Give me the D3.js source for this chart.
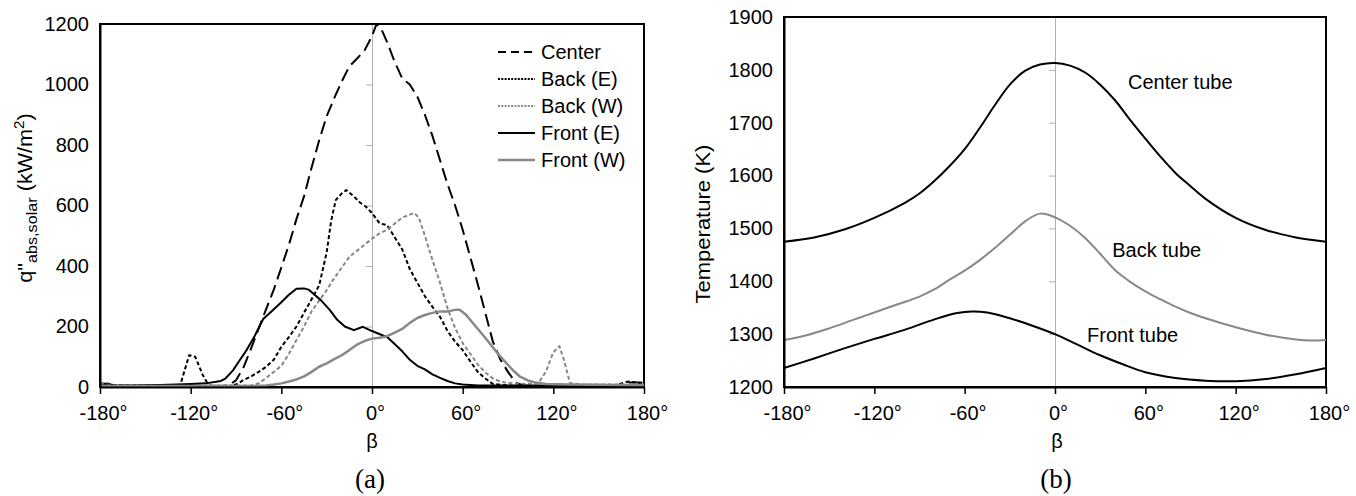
<!DOCTYPE html>
<html>
<head>
<meta charset="utf-8">
<script src="https://cdn.jsdelivr.net/npm/d3@7"></script>
<style>
body { margin: 0; background: #fff; }
text { font-family: Arial, "Liberation Sans", sans-serif; fill: #000; }
</style>
</head>
<body>
<div id="canvas"></div>
<script>
"use strict"

/* ---------- data: panel (a), absorbed solar flux vs beta ---------- */
let centerBeta = [-180, -175, -170, -160, -100, -95, -90, -85, -80, -75, -70, -65, -60, -55, -50, -45, -40, -35, -30, -25, -20, -15, -10, -5, 0, 3, 6, 10, 15, 20, 25, 30, 35, 40, 45, 50, 55, 60, 65, 70, 75, 80, 85, 90, 95, 100, 110, 150, 165, 170, 180];
let centerQ    = [12, 10, 5, 3, 3, 5, 22, 65, 128, 193, 258, 322, 395, 470, 555, 630, 725, 815, 895, 955, 1010, 1060, 1085, 1112, 1160, 1200, 1185, 1140, 1075, 1020, 1000, 960, 900, 830, 750, 670, 600, 520, 430, 340, 245, 150, 90, 50, 15, 5, 3, 3, 5, 15, 15];

let backEBeta = [-180, -175, -170, -130, -127, -121, -117, -112, -108, -100, -95, -90, -85, -80, -75, -70, -65, -60, -55, -50, -45, -40, -35, -30, -27, -24, -20, -17, -12, -8, -4, 0, 5, 10, 15, 20, 25, 30, 35, 40, 45, 50, 55, 60, 65, 70, 75, 80, 90, 100, 160, 165, 170, 175, 180];
let backEQ    = [8, 12, 5, 3, 5, 105, 100, 40, 5, 3, 3, 8, 23, 35, 50, 67, 90, 133, 165, 200, 245, 290, 335, 445, 550, 618, 640, 651, 630, 610, 596, 575, 541, 535, 495, 455, 390, 345, 300, 265, 232, 185, 150, 122, 85, 50, 28, 10, 5, 3, 3, 12, 18, 15, 12];

let backWBeta = [-180, -175, -170, -80, -75, -70, -65, -60, -55, -50, -45, -40, -35, -30, -25, -20, -15, -10, -5, 0, 5, 10, 15, 20, 25, 28, 31, 35, 40, 45, 50, 55, 60, 65, 70, 75, 80, 85, 90, 100, 110, 115, 120, 124, 127, 131, 140, 180];
let backWQ    = [10, 8, 5, 5, 12, 30, 50, 70, 110, 155, 200, 250, 285, 320, 360, 395, 430, 450, 470, 490, 508, 520, 540, 560, 570, 575, 560, 500, 420, 345, 260, 195, 145, 110, 75, 48, 28, 18, 13, 10, 12, 50, 115, 135, 90, 13, 8, 8];

let frontEBeta = [-180, -160, -140, -120, -110, -100, -97, -92, -88, -83, -78, -72, -66, -60, -55, -50, -45, -42, -38, -34, -28, -23, -18, -12, -6, 0, 4, 10, 15, 20, 25, 30, 35, 40, 45, 50, 55, 60, 70, 180];
let frontEQ    = [5, 5, 7, 10, 12, 20, 28, 55, 85, 122, 165, 225, 252, 280, 305, 325, 326, 322, 305, 288, 255, 222, 200, 188, 199, 185, 177, 165, 142, 118, 90, 70, 58, 42, 30, 20, 12, 8, 5, 5];

let frontWBeta = [-180, -80, -70, -65, -60, -55, -50, -45, -40, -35, -30, -25, -20, -15, -10, -5, 0, 5, 10, 15, 20, 25, 30, 35, 40, 45, 50, 55, 58, 62, 67, 72, 78, 83, 89, 94, 98, 103, 107, 115, 130, 180];
let frontWQ    = [3, 3, 5, 8, 12, 18, 25, 35, 50, 67, 78, 92, 105, 122, 140, 152, 160, 163, 168, 180, 192, 212, 228, 238, 245, 250, 250, 255, 255, 240, 210, 180, 144, 112, 78, 52, 34, 22, 16, 10, 8, 6];

let legendNames = ["Center", "Back (E)", "Back (W)", "Front (E)", "Front (W)"];

/* ---------- data: panel (b), tube temperature vs beta ---------- */
let centerTubeBeta = [-180, -160, -140, -120, -100, -90, -80, -70, -60, -50, -40, -30, -20, -10, 0, 10, 20, 30, 40, 50, 60, 70, 80, 90, 100, 120, 140, 160, 180];
let centerTubeT    = [1475, 1483, 1498, 1520, 1548, 1566, 1590, 1618, 1650, 1690, 1733, 1772, 1798, 1810, 1813, 1808, 1795, 1772, 1742, 1705, 1670, 1636, 1605, 1580, 1556, 1520, 1497, 1483, 1475];

let backTubeBeta = [-180, -165, -150, -135, -120, -105, -90, -80, -70, -60, -50, -40, -30, -20, -10, 0, 10, 20, 30, 40, 50, 60, 70, 80, 90, 100, 120, 140, 160, 170, 180];
let backTubeT    = [1289, 1298, 1311, 1326, 1341, 1356, 1371, 1385, 1403, 1420, 1440, 1463, 1488, 1513, 1528, 1521, 1505, 1482, 1452, 1421, 1399, 1381, 1366, 1352, 1340, 1330, 1313, 1299, 1290, 1288, 1289];

let frontTubeBeta = [-180, -160, -140, -120, -100, -80, -65, -55, -45, -30, -15, 0, 15, 30, 45, 60, 80, 100, 120, 140, 160, 180];
let frontTubeT    = [1236, 1254, 1273, 1291, 1308, 1328, 1340, 1343, 1341, 1330, 1316, 1300, 1280, 1260, 1243, 1228, 1217, 1212, 1211, 1215, 1224, 1236];

let tubeNames = ["Center tube", "Back tube", "Front tube"];

/* tick labels */
let betaTicks = [-180, -120, -60, 0, 60, 120, 180];
let qTicks = [0, 200, 400, 600, 800, 1000, 1200];
let tTicks = [1200, 1300, 1400, 1500, 1600, 1700, 1800, 1900];

/* ---------- drawing canvas ---------- */
let svgWidth = 1356;
let svgHeight = 496;
let gray = "#888";

let svg = d3.select("#canvas")
    .append("svg")
    .attr("width", svgWidth)
    .attr("height", svgHeight);

/* scales */
let xA = d3.scaleLinear().domain([-180, 180]).range([100, 644]);
let yA = d3.scaleLinear().domain([0, 1200]).range([387, 24]);
let xB = d3.scaleLinear().domain([-180, 180]).range([784, 1326]);
let yB = d3.scaleLinear().domain([1200, 1900]).range([387, 17]);

/* frame of one panel: grey zero line with small ticks, and the outer box */
function drawFrame(x, y, yTicks) {
    let zero = svg.append("g")
        .attr("transform", "translate(" + x(0) + ",0)")
        .call(d3.axisLeft(y).tickValues(yTicks.slice(1, -1)).tickSize(6).tickSizeOuter(0).tickFormat(""));
    zero.selectAll("path, line").attr("stroke", "#b0b0b0").attr("stroke-width", 1);

    svg.append("rect")
        .attr("x", x.range()[0])
        .attr("y", y.range()[1])
        .attr("width", x.range()[1] - x.range()[0])
        .attr("height", y.range()[0] - y.range()[1])
        .attr("fill", "none")
        .attr("stroke", "#000")
        .attr("stroke-width", 2);
}

function drawAxes(x, y, yTicks) {
    let bottom = svg.append("g")
        .attr("transform", "translate(0," + y.range()[0] + ")")
        .call(d3.axisBottom(x).tickValues(betaTicks).tickSize(7).tickSizeOuter(0).tickPadding(12)
            .tickFormat(function (d) { return d + "°"; }));
    bottom.select(".domain").attr("stroke", "#000").attr("stroke-width", 2);
    bottom.selectAll(".tick line").attr("stroke", "#000").attr("stroke-width", 1.5);
    bottom.selectAll("text").attr("font-size", 20).attr("dx", 3);

    let left = svg.append("g")
        .attr("transform", "translate(" + x.range()[0] + ",0)")
        .call(d3.axisLeft(y).tickValues(yTicks).tickSize(0).tickPadding(11).tickFormat(d3.format("d")));
    left.select(".domain").attr("stroke", "#000").attr("stroke-width", 2);
    left.selectAll("text").attr("font-size", 20);
}

/* ---------- panel (a) ---------- */
drawFrame(xA, yA, qTicks);

let seriesA = [
    {beta: centerBeta, val: centerQ, color: "#000", dash: "13,6", width: 2},
    {beta: backEBeta, val: backEQ, color: "#000", dash: "4,2.5", width: 2},
    {beta: backWBeta, val: backWQ, color: gray, dash: "4,2.5", width: 2},
    {beta: frontEBeta, val: frontEQ, color: "#000", dash: null, width: 2},
    {beta: frontWBeta, val: frontWQ, color: gray, dash: null, width: 2.5}
];

let lineA = d3.line()
    .x(function (d) { return xA(d[0]); })
    .y(function (d) { return yA(d[1]); });

svg.selectAll(".seriesA")
    .data(seriesA)
    .join("path")
    .attr("class", "seriesA")
    .attr("d", function (s) { return lineA(d3.zip(s.beta, s.val)); })
    .attr("fill", "none")
    .attr("stroke", function (s) { return s.color; })
    .attr("stroke-width", function (s) { return s.width; })
    .attr("stroke-dasharray", function (s) { return s.dash; })
    .attr("stroke-linejoin", "round");

drawAxes(xA, yA, qTicks);

/* legend */
let legendDash = ["8,5", "2,1.3", "2,1.3", null, null];
let legend = svg.selectAll(".legend")
    .data(seriesA)
    .join("g")
    .attr("class", "legend")
    .attr("transform", function (s, i) { return "translate(498," + (52 + i * 27) + ")"; });

legend.append("line")
    .attr("x1", 0)
    .attr("x2", 37)
    .attr("stroke", function (s) { return s.color; })
    .attr("stroke-width", function (s) { return s.width; })
    .attr("stroke-dasharray", function (s, i) { return legendDash[i]; });

legend.append("text")
    .attr("x", 43)
    .attr("dy", "0.35em")
    .attr("font-size", 20)
    .text(function (s, i) { return legendNames[i]; });

/* axis titles (a) */
let qTitle = svg.append("text")
    .attr("transform", "translate(32,198) rotate(-90) scale(1.08,1)")
    .attr("text-anchor", "middle")
    .attr("font-size", 20);
qTitle.append("tspan").text("q\"");
qTitle.append("tspan").attr("font-size", 15).attr("dy", 5).text("abs,solar");
qTitle.append("tspan").attr("dy", -5).text(" (kW/m");
qTitle.append("tspan").attr("font-size", 14).attr("dy", -8).text("2");
qTitle.append("tspan").attr("dy", 8).text(")");

svg.append("text")
    .attr("x", xA(0))
    .attr("y", 448)
    .attr("text-anchor", "middle")
    .attr("font-size", 20)
    .text("β");

svg.append("text")
    .attr("x", 370)
    .attr("y", 488)
    .attr("text-anchor", "middle")
    .attr("font-size", 27)
    .style("font-family", "'Liberation Serif', 'Times New Roman', serif")
    .text("(a)");

/* ---------- panel (b) ---------- */
drawFrame(xB, yB, tTicks);

let seriesB = [
    {beta: centerTubeBeta, val: centerTubeT, color: "#000", lx: 48.5, ly: 1777},
    {beta: backTubeBeta, val: backTubeT, color: gray, lx: 38, ly: 1459},
    {beta: frontTubeBeta, val: frontTubeT, color: "#000", lx: 21.3, ly: 1298}
];

let lineB = d3.line()
    .curve(d3.curveCatmullRom.alpha(0.5))
    .x(function (d) { return xB(d[0]); })
    .y(function (d) { return yB(d[1]); });

svg.selectAll(".seriesB")
    .data(seriesB)
    .join("path")
    .attr("class", "seriesB")
    .attr("d", function (s) { return lineB(d3.zip(s.beta, s.val)); })
    .attr("fill", "none")
    .attr("stroke", function (s) { return s.color; })
    .attr("stroke-width", 2);

/* curve labels */
svg.selectAll(".tubeLabel")
    .data(seriesB)
    .join("text")
    .attr("class", "tubeLabel")
    .attr("x", function (s) { return xB(s.lx); })
    .attr("y", function (s) { return yB(s.ly); })
    .attr("dy", "0.35em")
    .attr("font-size", 20)
    .text(function (s, i) { return tubeNames[i]; });

drawAxes(xB, yB, tTicks);

svg.append("text")
    .attr("transform", "translate(710,224) rotate(-90) scale(1.1,1)")
    .attr("text-anchor", "middle")
    .attr("font-size", 20)
    .text("Temperature (K)");

svg.append("text")
    .attr("x", xB(0) + 2)
    .attr("y", 448)
    .attr("text-anchor", "middle")
    .attr("font-size", 20)
    .text("β");

svg.append("text")
    .attr("x", 1056)
    .attr("y", 488)
    .attr("text-anchor", "middle")
    .attr("font-size", 27)
    .style("font-family", "'Liberation Serif', 'Times New Roman', serif")
    .text("(b)");
</script>
</body>
</html>
